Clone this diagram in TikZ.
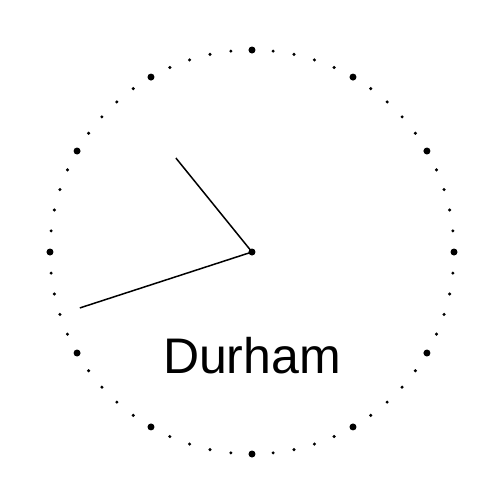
\documentclass[tikz,border=0pt]{standalone}
\usepackage{fontspec}
\setmainfont{Liberation Sans}
\usetikzlibrary{positioning}

\begin{document}
\begin{tikzpicture}[x=1pt,y=1pt]
			\useasboundingbox (-252,-252) rectangle (252,252);
			\coordinate (mid) at (0,0);
			% minute marks and hour marks
			\foreach \m in {0,...,59}
			\fill (90-6*\m:202) circle (1.7);
			\foreach \h in {0,...,11}
			\fill (90-30*\h:202) circle (3.5);
			\fill (mid) circle (3.5);
			% hands (10:42)
			\coordinate (hourtip) at (129:121);
			\coordinate (minutetip) at (198:181);
			\begin{scope}[line width=1.5pt]
			\draw (mid) -- (hourtip);
			\draw (mid) -- (minutetip);
			\end{scope}
			\node[anchor=base,inner sep=0pt,font=\fontsize{50}{60}\selectfont] (city) at (0,-121) {Durham};
\end{tikzpicture}
\end{document}
